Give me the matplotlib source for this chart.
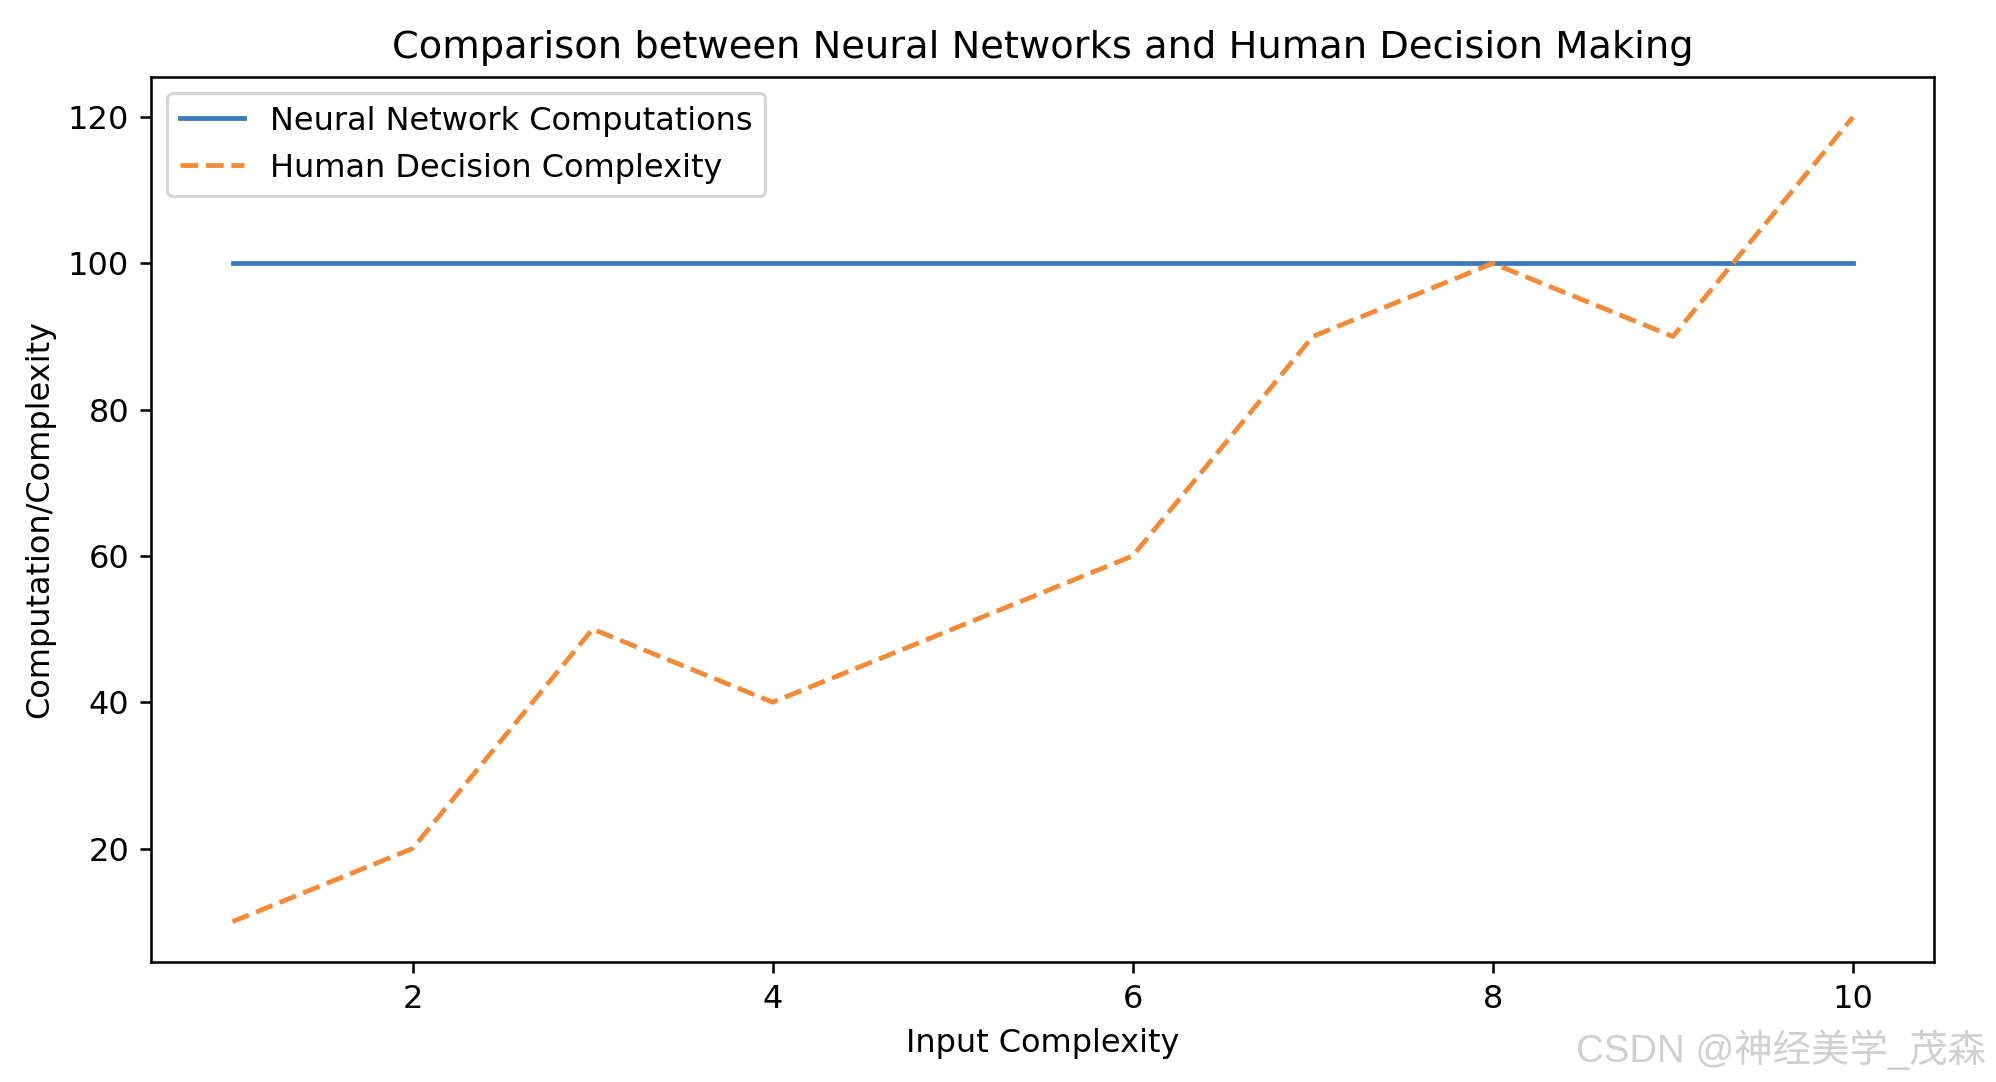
import matplotlib
matplotlib.use("Agg")
import matplotlib.pyplot as plt

x = [1, 2, 3, 4, 5, 6, 7, 8, 9, 10]
neural = [100, 100, 100, 100, 100, 100, 100, 100, 100, 100]
human = [10, 20, 50, 40, 50, 60, 90, 100, 90, 120]

DPI = 230
fig = plt.figure(figsize=(1996 / DPI, 1082 / DPI), dpi=DPI)
ax = fig.add_axes([0.0759, 0.111, 0.893, 0.818])
ax.plot(x, neural, color="#3b7bbf", label="Neural Network Computations")
ax.plot(x, human, color="#f28a36", linestyle="--", label="Human Decision Complexity")
ax.set_title("Comparison between Neural Networks and Human Decision Making")
ax.set_xlabel("Input Complexity")
ax.set_ylabel("Computation/Complexity")
ax.legend(loc="upper left")

fig.text(0.995, 0.030, "CSDN @神经美学_茂森", ha="right", va="center",
         fontsize=12, color="#d0d0d0",
         family=["Liberation Sans", "Noto Sans CJK SC"])

fig.savefig("out.png", dpi=DPI)
